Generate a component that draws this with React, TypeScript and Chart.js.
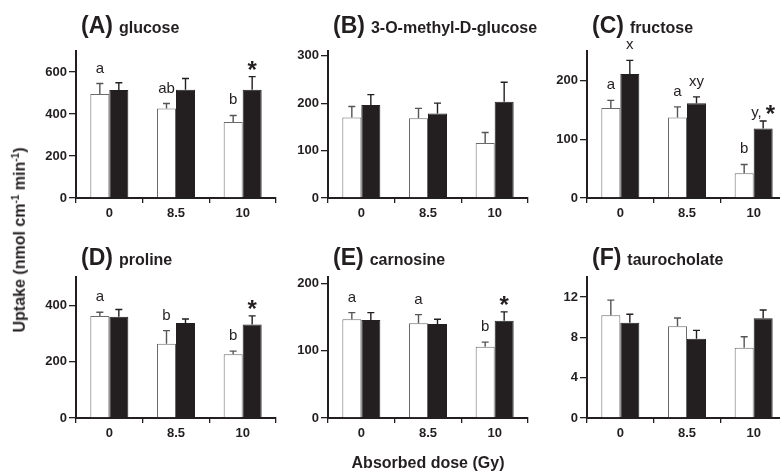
import React, { useEffect, useRef } from 'react';
import { Chart, registerables } from 'chart.js';
Chart.register(...registerables);

// ---- data ----
const doses = ['0', '8.5', '10'];

const glucoseWhite = [495, 426, 362];
const glucoseWhiteErr = [50, 24, 31];
const glucoseBlack = [514, 516, 516];
const glucoseBlackErr = [35, 53, 62];
const glucoseTicks = [0, 200, 400, 600];

const methylWhite = [170, 168, 116];
const methylWhiteErr = [23, 21, 22];
const methylBlack = [196, 178, 203];
const methylBlackErr = [22, 22, 41];
const methylTicks = [0, 100, 200, 300];

const fructoseWhite = [153, 137, 42];
const fructoseWhiteErr = [13, 18, 15];
const fructoseBlack = [211, 161, 118];
const fructoseBlackErr = [23, 11, 13];
const fructoseTicks = [0, 100, 200];

const prolineWhite = [362, 263, 226];
const prolineWhiteErr = [13, 47, 11];
const prolineBlack = [359, 337, 332];
const prolineBlackErr = [26, 14, 30];
const prolineTicks = [0, 200, 400];

const carnosineWhite = [147, 141, 106];
const carnosineWhiteErr = [10, 13, 7];
const carnosineBlack = [146, 140, 145];
const carnosineBlackErr = [11, 7, 13];
const carnosineTicks = [0, 100, 200];

const tauroWhite = [10.2, 9.1, 6.97];
const tauroWhiteErr = [1.5, 0.83, 1.1];
const tauroBlack = [9.45, 7.86, 9.9];
const tauroBlackErr = [0.85, 0.84, 0.82];
const tauroTicks = [0, 4, 8, 12];

// significance marks: [series (0 white, 1 black), category index, text]
const glucoseMarks: [number, number, string][] = [[0, 0, 'a'], [0, 1, 'ab'], [0, 2, 'b'], [1, 2, '*']];
const methylMarks: [number, number, string][] = [];
const fructoseMarks: [number, number, string][] = [[0, 0, 'a'], [1, 0, 'x'], [0, 1, 'a'], [1, 1, 'xy'], [0, 2, 'b'], [1, 2, 'y, *']];
const prolineMarks: [number, number, string][] = [[0, 0, 'a'], [0, 1, 'b'], [0, 2, 'b'], [1, 2, '*']];
const carnosineMarks: [number, number, string][] = [[0, 0, 'a'], [0, 1, 'a'], [0, 2, 'b'], [1, 2, '*']];
const tauroMarks: [number, number, string][] = [];

const FONT = "'Liberation Sans', Arial, Helvetica, sans-serif";
const INK = '#231f20';

type PanelDef = {
  tag: string; name: string;
  white: number[]; whiteErr: number[]; black: number[]; blackErr: number[];
  max: number; ticks: number[]; marks: [number, number, string][];
  col: number; row: number;
};

const panels: PanelDef[] = [
  { tag: '(A)', name: 'glucose', white: glucoseWhite, whiteErr: glucoseWhiteErr, black: glucoseBlack, blackErr: glucoseBlackErr, max: 700, ticks: glucoseTicks, marks: glucoseMarks, col: 0, row: 0 },
  { tag: '(B)', name: '3-O-methyl-D-glucose', white: methylWhite, whiteErr: methylWhiteErr, black: methylBlack, blackErr: methylBlackErr, max: 310, ticks: methylTicks, marks: methylMarks, col: 1, row: 0 },
  { tag: '(C)', name: 'fructose', white: fructoseWhite, whiteErr: fructoseWhiteErr, black: fructoseBlack, blackErr: fructoseBlackErr, max: 250, ticks: fructoseTicks, marks: fructoseMarks, col: 2, row: 0 },
  { tag: '(D)', name: 'proline', white: prolineWhite, whiteErr: prolineWhiteErr, black: prolineBlack, blackErr: prolineBlackErr, max: 500, ticks: prolineTicks, marks: prolineMarks, col: 0, row: 1 },
  { tag: '(E)', name: 'carnosine', white: carnosineWhite, whiteErr: carnosineWhiteErr, black: carnosineBlack, blackErr: carnosineBlackErr, max: 210, ticks: carnosineTicks, marks: carnosineMarks, col: 1, row: 1 },
  { tag: '(F)', name: 'taurocholate', white: tauroWhite, whiteErr: tauroWhiteErr, black: tauroBlack, blackErr: tauroBlackErr, max: 14, ticks: tauroTicks, marks: tauroMarks, col: 2, row: 1 },
];

// layout
const AXIS_X = [76, 328, 587];
const Y_W = 52;
const PLOT_W = 200;
const PAD_R = 40;
const ROW_TOP = [0, 226];
const ROW_H = 226;
const PAD_TOP = [51, 51];
const X_H = [28, 34];
const TITLE_BASE = [33, 39];

function Panel({ p }: { p: PanelDef }) {
  const ref = useRef<HTMLCanvasElement>(null);
  useEffect(() => {
    const errs = [p.whiteErr, p.blackErr];
    const vals = [p.white, p.black];
    const errTop = (chart: any, d: number, i: number) =>
      chart.scales.y.getPixelForValue(vals[d][i] + errs[d][i]);

    const errorBars = {
      id: 'errorBars',
      afterDatasetsDraw(chart: any) {
        const ctx = chart.ctx;
        ctx.save();
        ctx.lineWidth = 1.4;
        for (let d = 0; d < 2; d++) {
          const meta = chart.getDatasetMeta(d);
          ctx.strokeStyle = d === 0 ? '#555' : INK;
          meta.data.forEach((el: any, i: number) => {
            const yt = errTop(chart, d, i);
            ctx.beginPath();
            ctx.moveTo(el.x, el.y);
            ctx.lineTo(el.x, yt);
            ctx.moveTo(el.x - 3.5, yt);
            ctx.lineTo(el.x + 3.5, yt);
            ctx.stroke();
          });
        }
        ctx.restore();
      },
    };

    const marks = {
      id: 'marks',
      afterDatasetsDraw(chart: any) {
        const ctx = chart.ctx;
        ctx.save();
        ctx.fillStyle = INK;
        ctx.textBaseline = 'alphabetic';
        ctx.textAlign = 'left';
        p.marks.forEach(([d, i, t]) => {
          const el = chart.getDatasetMeta(d).data[i];
          const yt = errTop(chart, d, i);
          const star = t.endsWith('*');
          const letters = star ? t.slice(0, -1) : t;
          const fLetter = `normal 15px ${FONT}`;
          const fStar = `bold 24px ${FONT}`;
          ctx.font = fLetter;
          const wl = letters ? ctx.measureText(letters).width : 0;
          ctx.font = fStar;
          const ws = star ? ctx.measureText('*').width : 0;
          let x = el.x - (wl + ws) / 2;
          if (letters) {
            ctx.font = fLetter;
            ctx.fillText(letters, x, yt - (star ? 4 : 11));
            x += wl;
          }
          if (star) {
            ctx.font = fStar;
            ctx.fillText('*', x, yt + 1);
          }
        });
        ctx.restore();
      },
    };

    const title = {
      id: 'panelTitle',
      afterDraw(chart: any) {
        const ctx = chart.ctx;
        ctx.save();
        ctx.fillStyle = INK;
        ctx.textAlign = 'left';
        ctx.textBaseline = 'alphabetic';
        const x0 = chart.chartArea.left + 5;
        const yb = TITLE_BASE[p.row];
        ctx.font = `bold 23px ${FONT}`;
        ctx.fillText(p.tag, x0, yb);
        const w = ctx.measureText(p.tag).width;
        ctx.font = `bold 16px ${FONT}`;
        ctx.fillText(p.name, x0 + w + 6, yb);
        ctx.restore();
      },
    };

    const tickFont = { family: FONT, weight: 'bold' as const, size: 13 };
    const chart = new Chart(ref.current!, {
      type: 'bar',
      data: {
        labels: doses,
        datasets: [
          { data: p.white, backgroundColor: '#ffffff', borderColor: '#6a6a6a', borderWidth: 1, categoryPercentage: 0.57, barPercentage: 1 },
          { data: p.black, backgroundColor: INK, borderColor: INK, borderWidth: 1, categoryPercentage: 0.57, barPercentage: 1 },
        ],
      },
      options: {
        responsive: false,
        animation: false,
        devicePixelRatio: 1,
        layout: { padding: { top: PAD_TOP[p.row], right: PAD_R, left: 0, bottom: 0 } },
        plugins: { legend: { display: false }, tooltip: { enabled: false } },
        scales: {
          x: {
            grid: { drawOnChartArea: false, tickLength: 5, color: INK, lineWidth: 1.3 },
            border: { color: INK, width: 2 },
            ticks: { font: tickFont, color: INK, padding: 3 },
            afterFit: (s: any) => { s.height = X_H[p.row]; },
          },
          y: {
            min: 0,
            max: p.max,
            grid: { drawOnChartArea: false, tickLength: 7, color: INK, lineWidth: 1.3 },
            border: { color: INK, width: 2 },
            ticks: { font: tickFont, color: INK, padding: 2 },
            afterBuildTicks: (s: any) => { s.ticks = p.ticks.map((v) => ({ value: v })); },
            afterFit: (s: any) => { s.width = Y_W; },
          },
        },
      },
      plugins: [errorBars, marks, title],
    } as any);
    return () => chart.destroy();
  }, [p]);

  const w = Y_W + PLOT_W + PAD_R;
  return (
    <canvas
      ref={ref}
      width={w}
      height={ROW_H}
      style={{ position: 'absolute', left: AXIS_X[p.col] - Y_W, top: ROW_TOP[p.row], width: w, height: ROW_H }}
    />
  );
}

export default function App() {
  return (
    <div style={{ position: 'fixed', left: 0, top: 0, width: 780, height: 471, overflow: 'hidden', background: '#fff' }}>
      {panels.map((p) => <Panel key={p.tag} p={p} />)}
      <div
        style={{
          position: 'absolute', left: 18, top: 240, transform: 'translate(-50%, -50%) rotate(-90deg)',
          whiteSpace: 'nowrap', font: `bold 16px ${FONT}`, color: INK, lineHeight: '18px',
        }}
      >
        Uptake (nmol cm<sup style={{ fontSize: '10px' }}>-1</sup> min<sup style={{ fontSize: '10px' }}>-1</sup>)
      </div>
      <div
        style={{
          position: 'absolute', left: 428, top: 463, transform: 'translate(-50%, -50%)',
          whiteSpace: 'nowrap', font: `bold 16px ${FONT}`, color: INK,
        }}
      >
        Absorbed dose (Gy)
      </div>
    </div>
  );
}
